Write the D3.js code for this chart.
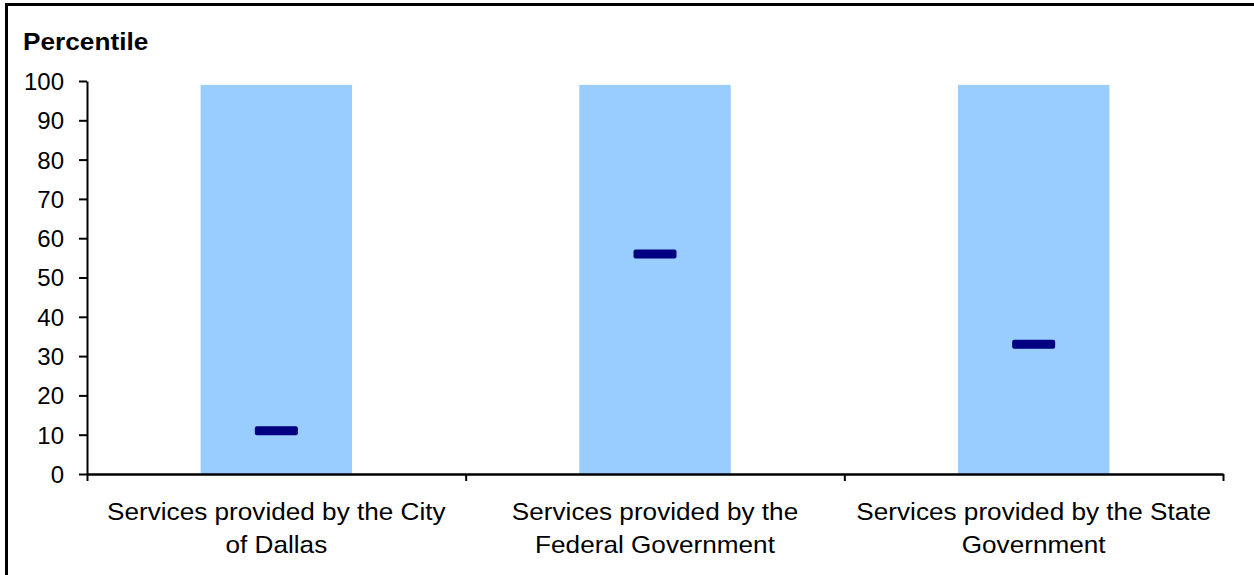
<!DOCTYPE html>
<html><head><meta charset="utf-8">
<script src="https://cdn.jsdelivr.net/npm/d3@7"></script>
<style>html,body{margin:0;padding:0;background:#fff;}svg{display:block;font-family:"Liberation Sans",Arial,sans-serif;}</style>
</head><body>
<svg id="c" width="1254" height="575"></svg>
<script>
const categories = [["Services provided by the City","of Dallas"],["Services provided by the","Federal Government"],["Services provided by the State","Government"]];
const rangeMax = [99, 99, 99];
const percentile = [11, 56, 33];
const yTicks = [0,10,20,30,40,50,60,70,80,90,100];

const svg = d3.select("#c");
svg.append("rect").attr("x",6.5).attr("y",4.5).attr("width",1260).attr("height",600)
  .attr("fill","none").attr("stroke","#000").attr("stroke-width",3);

const x0 = 87, x1 = 1223, yTop = 81, yBot = 474;
const y = d3.scaleLinear().domain([0,100]).range([yBot,yTop]);
const x = d3.scaleBand().domain(d3.range(categories.length)).range([x0,x1]).paddingInner(0).paddingOuter(0);
const bw = x.bandwidth()*0.4;

svg.selectAll(".bar").data(rangeMax).join("rect")
  .attr("x",(d,i)=>x(i)+x.bandwidth()/2-bw/2).attr("width",bw)
  .attr("y",d=>y(d)).attr("height",d=>y(0)-y(d)).attr("fill","#99CCFF");

const mw = 43, mh = 9;
svg.selectAll(".mk").data(percentile).join("rect")
  .attr("x",(d,i)=>x(i)+x.bandwidth()/2-mw/2).attr("width",mw)
  .attr("y",d=>y(d)-mh/2).attr("height",mh).attr("rx",2).attr("fill","#000080");

const ya = svg.append("g").attr("transform",`translate(${x0},0)`)
  .call(d3.axisLeft(y).tickValues(yTicks).tickSize(8).tickPadding(15).tickSizeOuter(0));
ya.select(".domain").attr("stroke","#000").attr("stroke-width",2);
ya.selectAll(".tick line").attr("stroke","#000").attr("stroke-width",2);
ya.selectAll(".tick text").attr("font-size",24).attr("fill","#000").attr("dy","0.35em")
  .attr("font-family","'Liberation Sans',Arial,sans-serif");

const xb = d3.scaleLinear().domain([0,categories.length]).range([x0,x1]);
const xa = svg.append("g").attr("transform",`translate(0,${yBot})`)
  .call(d3.axisBottom(xb).tickValues(d3.range(categories.length+1)).tickSize(7).tickSizeOuter(0).tickFormat(""));
xa.select(".domain").attr("stroke","#000").attr("stroke-width",2.5);
xa.selectAll(".tick line").attr("stroke","#000").attr("stroke-width",2);

const lab = svg.append("g");
categories.forEach((lines,i)=>{
  const cx = x(i)+x.bandwidth()/2;
  const t = lab.append("text").attr("text-anchor","middle")
    .attr("font-size",24).attr("fill","#000")
    .attr("transform",`translate(${cx},0) scale(1.09,1)`);
  lines.forEach((l,j)=>t.append("tspan").attr("x",0).attr("y",520+j*33).text(l));
});

svg.append("text").attr("transform","translate(23,50) scale(1.14,1)").attr("font-size",23)
  .attr("font-weight","bold").text("Percentile");
</script>
</body></html>
